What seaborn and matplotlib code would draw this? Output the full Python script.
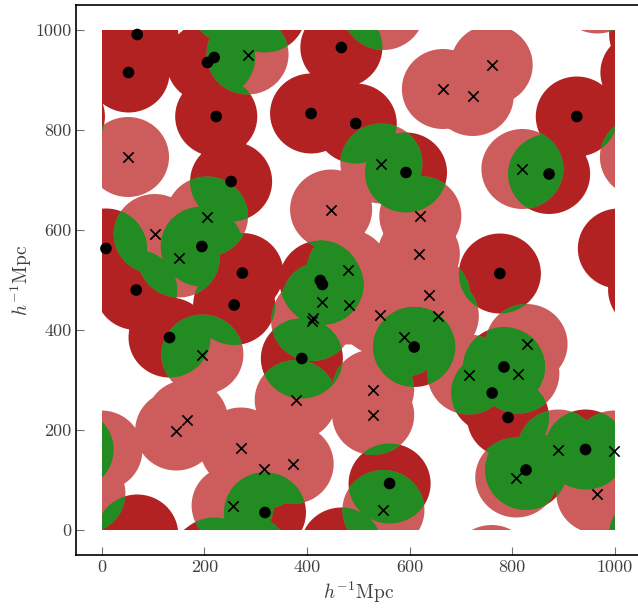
import numpy as np
import pandas as pd
import matplotlib
matplotlib.use("Agg")
import matplotlib.pyplot as plt
import seaborn as sns
from matplotlib.patches import Circle, PathPatch
from matplotlib.path import Path
from matplotlib.transforms import Bbox, TransformedBbox

# catalogue A (black dots, dark red discs)
dot_x = [69, 52, 219, 206, 223, 408, 467, 495, 593, 926, 872, 252, 195, 8, 274,
         67, 426, 430, 258, 132, 390, 609, 776, 784, 761, 792, 827, 943, 561, 318]
dot_y = [991, 915, 945, 935, 827, 833, 965, 813, 715, 827, 712, 697, 567, 563, 514,
         480, 499, 491, 450, 385, 343, 366, 513, 326, 274, 225, 120, 161, 93, 35]

# catalogue B (crosses, light red discs)
cross_x = [284, 51, 205, 103, 150, 760, 665, 723, 545, 820, 447, 621, 618, 480,
           638, 430, 482, 542, 655, 590, 412, 410, 196, 166, 145, 271, 316, 372,
           378, 255, 529, 529, 828, 715, 812, 890, 999, 808, 966, 549]
cross_y = [951, 746, 627, 592, 545, 930, 882, 868, 733, 722, 641, 628, 552, 521,
           470, 457, 451, 430, 428, 387, 425, 418, 351, 220, 199, 165, 122, 132,
           260, 49, 281, 230, 372, 311, 313, 161, 159, 105, 73, 40]

box = 1000.0
radius = 80.0

sns.set_style("ticks")
plt.rcParams["font.family"] = "serif"
plt.rcParams["font.serif"] = ["cmr10", "DejaVu Serif"]
plt.rcParams["mathtext.fontset"] = "cm"
plt.rcParams["axes.unicode_minus"] = False


def periodic(xs, ys):
    # copies of each centre shifted by the box size, kept if the disc touches the box
    pts = []
    for x, y in zip(xs, ys):
        for sx in (-box, 0, box):
            for sy in (-box, 0, box):
                px, py = x + sx, y + sy
                if -radius < px < box + radius and -radius < py < box + radius:
                    pts.append((px, py))
    return np.array(pts)


def discs(centres):
    # one compound path -> union of discs without seams
    return Path.make_compound_path(*[Path.circle((cx, cy), radius) for cx, cy in centres])


fig = plt.figure(figsize=(6.38, 6.09), dpi=100)
ax = fig.add_axes([76.2 / 638, 54 / 609, (640.4 - 76.2) / 638, 550 / 609])
ax.set_xlim(-50, 1050)
ax.set_ylim(-50, 1050)
square = TransformedBbox(Bbox([[0, 0], [box, box]]), ax.transData)

dots = periodic(dot_x, dot_y)
crosses = periodic(cross_x, cross_y)

for centres, col in [(dots, "firebrick"), (crosses, "indianred")]:
    p = ax.add_patch(PathPatch(discs(centres), fc=col, lw=0, zorder=1))
    p.set_clip_box(square)

# overlap of the two coverages in green
for qx, qy in crosses:
    near = [(dx, dy) for dx, dy in dots if np.hypot(dx - qx, dy - qy) < 2 * radius]
    if not near:
        continue
    g = ax.add_patch(PathPatch(discs(near), fc="forestgreen", lw=0, zorder=2))
    g.set_clip_box(square)
    g.set_clip_path(Circle((qx, qy), radius, transform=ax.transData))

df_dots = pd.DataFrame({"x": dot_x, "y": dot_y})
df_cross = pd.DataFrame({"x": cross_x, "y": cross_y})
sns.scatterplot(data=df_dots, x="x", y="y", marker="o", color="black", s=70,
                edgecolor="none", ax=ax, zorder=5)
sns.scatterplot(data=df_cross, x="x", y="y", marker="x", color="black", s=55,
                linewidth=1.2, ax=ax, zorder=5)

ax.set_xticks(range(0, 1001, 200))
ax.set_yticks(range(0, 1001, 200))
ax.tick_params(direction="in", length=6, width=0.8, color="0.45",
               labelsize=13, labelcolor="0.25")
for s in ax.spines.values():
    s.set_linewidth(1.2)
    s.set_color("black")
ax.set_xlabel(r"$h^{-1}\mathrm{Mpc}$", fontsize=14, color="0.25", labelpad=3)
ax.set_ylabel(r"$h^{-1}\mathrm{Mpc}$", fontsize=14, color="0.25", labelpad=1)

fig.savefig("out.png", dpi=100)
